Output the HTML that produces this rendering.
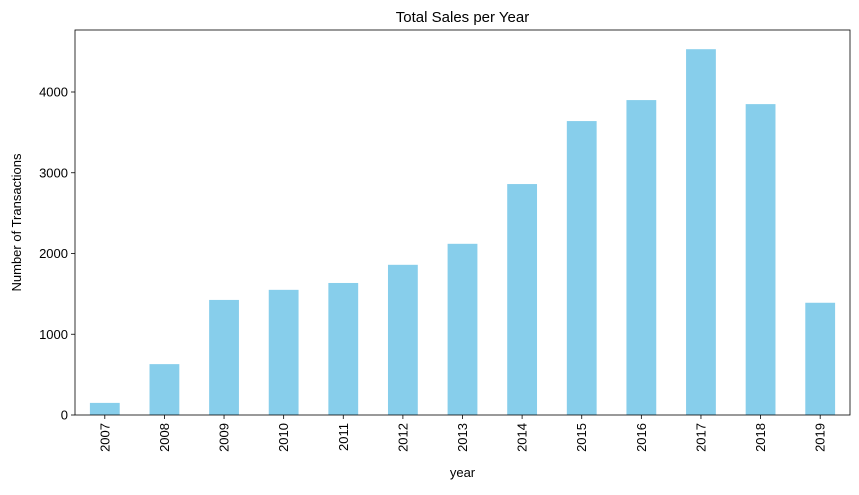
<!DOCTYPE html>
<html><head><meta charset="utf-8"><style>
body{margin:0;background:#fff;width:859px;height:490px;overflow:hidden}
text{font-family:"Liberation Sans","DejaVu Sans",sans-serif;fill:#000}
</style></head><body>
<svg id="chart" width="859" height="490" xmlns="http://www.w3.org/2000/svg"></svg>
<script>
const years=["2007","2008","2009","2010","2011","2012","2013","2014","2015","2016","2017","2018","2019"];
const sales=[150,630,1425,1550,1635,1860,2120,2860,3640,3900,4530,3850,1390];
const yTicks=[0,1000,2000,3000,4000];
const svg=document.getElementById('chart');
const NS='http://www.w3.org/2000/svg';
const L=75,R=850,T=30,B=415,yPer=(415-92)/4000;
const step=(R-L)/years.length;
const xC=i=>L+step*(i+0.5);
const yS=v=>B-v*yPer;
function mk(tag,attrs,txt){const e=document.createElementNS(NS,tag);for(const k in attrs)e.setAttribute(k,attrs[k]);if(txt!==undefined)e.textContent=txt;svg.appendChild(e);return e;}
years.forEach((y,i)=>{
 const r=mk('rect',{x:xC(i)-step/4,y:yS(sales[i]),width:step/2,height:B-yS(sales[i]),fill:'#87ceeb'});
 
 
 const t=mk('line',{x1:xC(i),x2:xC(i),y1:B,y2:B+4,stroke:'#000','stroke-width':0.8});
 
 
 const lb=mk('text',{x:0,y:0,'font-size':13,'text-anchor':'end',transform:`translate(${xC(i)+4.5},${B+8}) rotate(-90)`},y);
 
 
});
yTicks.forEach(v=>{
 const t=mk('line',{x1:L-4,x2:L,y1:yS(v),y2:yS(v),stroke:'#000','stroke-width':0.8});
 
 
 const lb=mk('text',{x:L-7,y:yS(v)+4.5,'font-size':13,'text-anchor':'end'},v);
 
 
});
const f=mk('rect',{x:L,y:T,width:R-L,height:B-T,fill:'none',stroke:'#000','stroke-width':0.8});


const ti=mk('text',{x:(L+R)/2,y:22,'font-size':15,'text-anchor':'middle'},'Total Sales per Year');


const xt=mk('text',{x:(L+R)/2,y:477,'font-size':13,'text-anchor':'middle'},'year');


const yt=mk('text',{x:0,y:0,'font-size':13,'text-anchor':'middle',transform:`translate(21,${(T+B)/2}) rotate(-90)`},'Number of Transactions');


</script>
</body></html>
